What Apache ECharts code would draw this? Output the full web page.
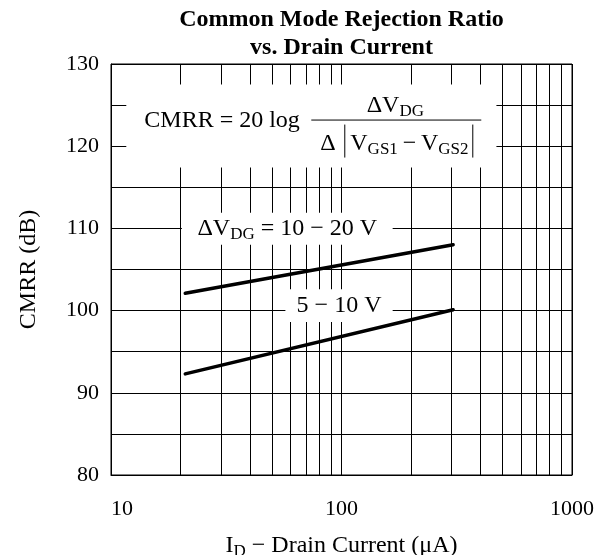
<!DOCTYPE html>
<html>
<head>
<meta charset="utf-8">
<title>CMRR vs. Drain Current</title>
<script src="https://cdn.jsdelivr.net/npm/echarts@6/dist/echarts.min.js"></script>
</head>
<body style="margin:0;background:#fff">
<div id="main" style="width:595px;height:555px"></div>
<script>
// values
var xMinorGrid = [20, 30, 40, 50, 60, 70, 80, 90, 200, 300, 400, 500, 600, 700, 800, 900];
var currentUA = [21, 305];
var cmrrHigh = [102.1, 108.0]; // dV_DG = 10 - 20 V
var cmrrLow = [92.3, 100.1];   // dV_DG = 5 - 10 V

var FONT = 'Liberation Serif';
var chart = echarts.init(document.getElementById('main'));

function pairs(xs, ys) {
    return xs.map(function (x, i) { return [x, ys[i]]; });
}

var subRich = {
    a: { fontFamily: FONT, fontSize: 24, color: '#000', lineHeight: 28 },
    s: { fontFamily: FONT, fontSize: 17, color: '#000', lineHeight: 18, verticalAlign: 'bottom' }
};

chart.setOption({
    animation: false,
    grid: {
        left: 111, right: 23, top: 64, bottom: 80, outerBoundsMode: 'none',
        show: true, borderColor: '#000', borderWidth: 1
    },
    xAxis: {
        type: 'log', logBase: 10, min: 10, max: 1000,
        name: '{a|I}{s|D}{a| \u2212 Drain Current (\u03bcA)}',
        nameLocation: 'middle', nameGap: 57,
        nameTextStyle: { rich: subRich },
        axisLine: { lineStyle: { color: '#000', width: 1 } },
        axisTick: { show: false },
        axisLabel: {
            color: '#000', fontFamily: FONT, fontSize: 22, margin: 23, alignMinLabel: 'left',
            formatter: function (v) { return String(v); }
        },
        splitLine: { show: true, lineStyle: { color: '#000', width: 1 } }
    },
    yAxis: {
        type: 'value', min: 80, max: 130, interval: 5,
        name: 'CMRR (dB)', nameLocation: 'middle', nameGap: 70,
        nameTextStyle: { color: '#000', fontFamily: FONT, fontSize: 24 },
        axisLine: { show: true, lineStyle: { color: '#000', width: 1 } },
        axisTick: { show: false },
        axisLabel: {
            color: '#000', fontFamily: FONT, fontSize: 22, margin: 12,
            formatter: function (v) { return v % 10 === 0 ? v : ''; }
        },
        splitLine: { show: true, lineStyle: { color: '#000', width: 1 } }
    },
    series: [
        {
            type: 'line', z: 3, showSymbol: false, silent: true,
            data: pairs(currentUA, cmrrHigh),
            lineStyle: { color: '#000', width: 3.5, cap: 'round' },
            markLine: {
                z: 1, silent: true, symbol: 'none', label: { show: false },
                lineStyle: { color: '#000', width: 1, type: 'solid' },
                data: xMinorGrid.map(function (v) { return { xAxis: v }; })
            },
            markArea: {
                z: 2, silent: true,
                itemStyle: { color: '#fff', opacity: 1 },
                label: { show: true, position: 'inside', rich: subRich },
                data: [
                    [{ coord: [11.65, 127.5], label: { show: false } }, { coord: [470, 117.4] }],
                    [{ coord: [20.3, 111.9], label: { formatter: '{a|\u0394V}{s|DG}{a| = 10 \u2212 20 V}' } }, { coord: [166.7, 108.0] }],
                    [{ coord: [57.1, 102.6], label: { formatter: '{a|5 \u2212 10 V}' } }, { coord: [166.7, 98.6] }]
                ]
            }
        },
        {
            type: 'line', z: 3, showSymbol: false, silent: true,
            data: pairs(currentUA, cmrrLow),
            lineStyle: { color: '#000', width: 3.5, cap: 'round' }
        }
    ]
});

// title and formula placed relative to the plot
var mid = chart.convertToPixel({ gridIndex: 0 }, [100, 130]);
var box = chart.convertToPixel({ gridIndex: 0 }, [11.65, 127.5]);
var bx = box[0], by = box[1];
var txt = function (x, y, text, opts) {
    return {
        type: 'text', z: 10, silent: true, x: x, y: y,
        style: Object.assign({ text: text, fill: '#000', font: '24px "' + FONT + '"', rich: subRich,
            align: 'left', verticalAlign: 'middle' }, opts || {})
    };
};
var line = function (x1, y1, x2, y2) {
    return { type: 'line', z: 10, silent: true, shape: { x1: x1, y1: y1, x2: x2, y2: y2 },
        style: { stroke: '#000', lineWidth: 1 } };
};
chart.setOption({
    graphic: [
        txt(mid[0], 20, 'Common Mode Rejection Ratio', { align: 'center', font: 'bold 24px "' + FONT + '"' }),
        txt(mid[0], 48, 'vs. Drain Current', { align: 'center', font: 'bold 24px "' + FONT + '"' }),
        txt(bx + 18, by + 36, 'CMRR = 20 log'),
        line(bx + 185, by + 35.5, bx + 355, by + 35.5),
        txt(bx + 269, by + 21, '{a|\u0394V}{s|DG}', { align: 'center' }),
        txt(bx + 194, by + 59, '\u0394'),
        line(bx + 218.5, by + 40, bx + 218.5, by + 73),
        txt(bx + 224, by + 59, '{a|V}{s|GS1}{a|\u2009\u2212\u2009V}{s|GS2}'),
        line(bx + 346.5, by + 40, bx + 346.5, by + 73)
    ]
});
</script>
</body>
</html>
